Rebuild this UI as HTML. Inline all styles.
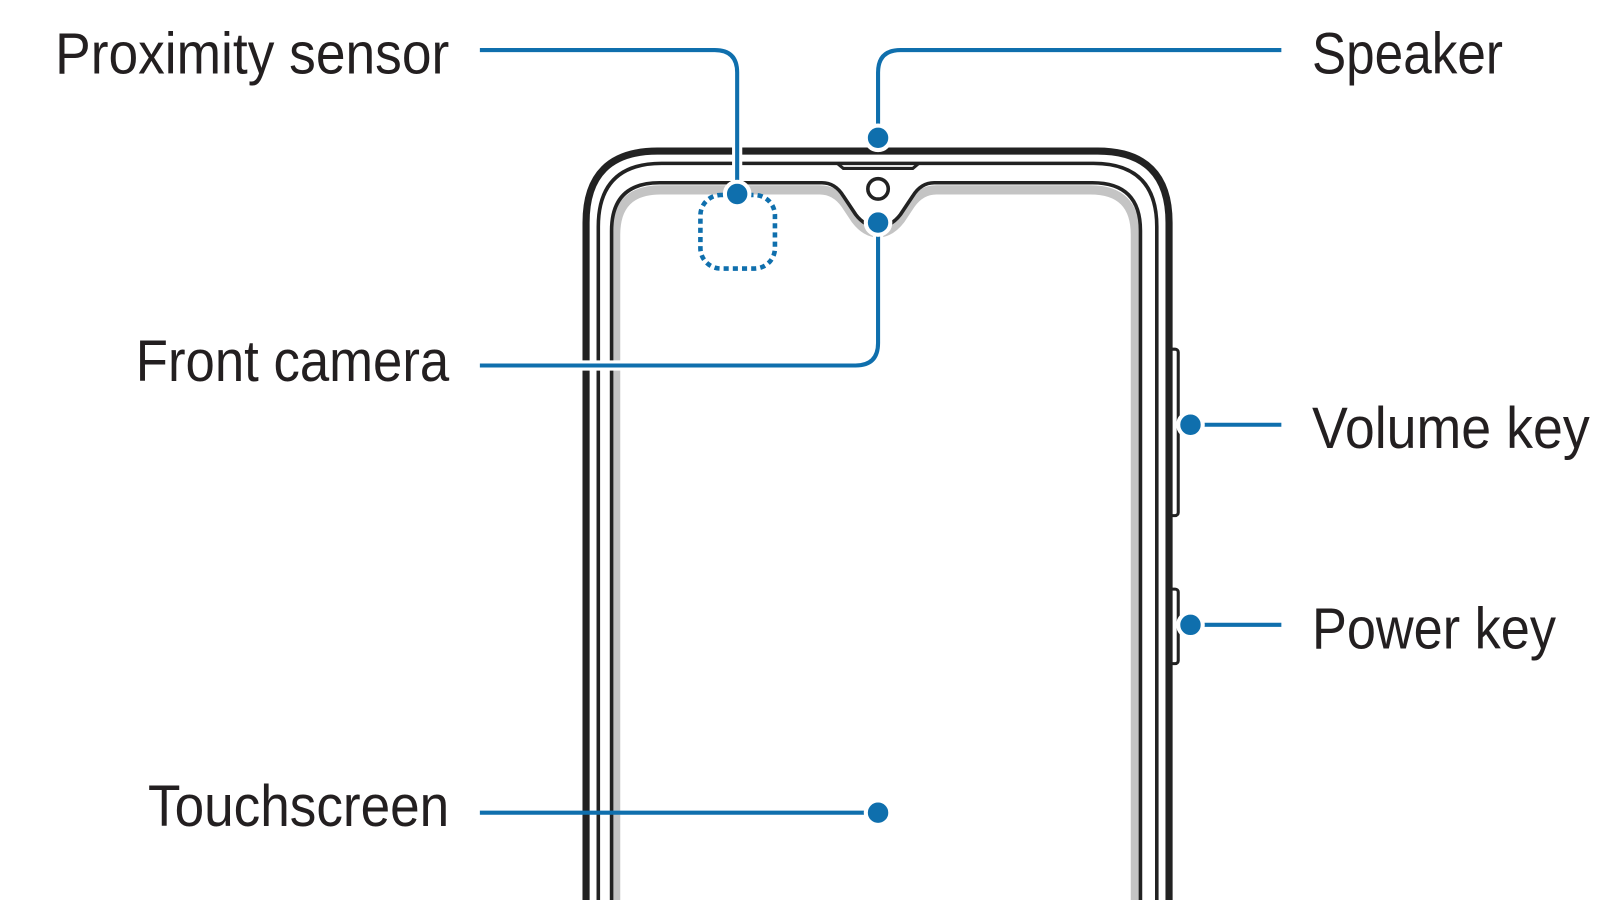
<!DOCTYPE html>
<html><head><meta charset="utf-8"><style>
html,body{margin:0;padding:0;background:#fff;}
svg{display:block;}
text{font-family:"Liberation Sans",sans-serif;font-size:57px;fill:#231f20;}
</style></head><body>
<svg width="1600" height="900" viewBox="0 0 1600 900" xmlns="http://www.w3.org/2000/svg">
<g transform="scale(1.021)">
<path d="M1145 342 h6 a3 3 0 0 1 3 3 v157 a3 3 0 0 1 -3 3 h-6" fill="#fff" stroke="#222" stroke-width="3"/>
<path d="M1145 577 h6 a3 3 0 0 1 3 3 v67 a3 3 0 0 1 -3 3 h-6" fill="#fff" stroke="#222" stroke-width="3"/>
<path d="M574 920 V218 Q574 148 644 148 H1075 Q1145 148 1145 218 V920" fill="#fff" stroke="#222" stroke-width="7"/>
<path d="M586 920 V222 Q586 160 648 160 H1071 Q1133 160 1133 222 V920" fill="none" stroke="#222" stroke-width="3.5"/>
<path d="M820 160 L826 165 H894 L900 160" fill="none" stroke="#222" stroke-width="3"/>
<path d="M603 920 V230 Q603 186 647 186 H803 Q818 186 828 200 L838 215 Q848 228 860 228 Q872 228 882 215 L892 200 Q902 186 917 186 H1068 Q1112 186 1112 230 V920" fill="none" stroke="#c4c4c4" stroke-width="9"/>
<path d="M599 920 V226 Q599 179 646 179 H805 Q818 179 826 192 L838 210 Q847 222 860 222 Q873 222 882 210 L894 192 Q902 179 915 179 H1070 Q1117 179 1117 226 V920" fill="none" stroke="#222" stroke-width="3.5"/>
<circle cx="860" cy="185" r="10" fill="#fff" stroke="#222" stroke-width="3.5"/>
<rect x="686" y="191" width="73" height="72" rx="20" fill="none" stroke="#0f6fad" stroke-width="4.5" stroke-dasharray="5 4"/>
<g fill="none" stroke="#0f6fad" stroke-width="4">
<path d="M470 49 H700 Q722 49 722 71 V190" stroke="#fff" stroke-width="10"/>
<path d="M470 49 H700 Q722 49 722 71 V190"/>
<path d="M1255 49 H882 Q860 49 860 71 V135"/>
<path d="M470 358 H838 Q860 358 860 336 V218" stroke="#fff" stroke-width="10"/>
<path d="M470 358 H838 Q860 358 860 336 V218"/>
<path d="M1166 416 H1255"/>
<path d="M1166 612 H1255"/>
<path d="M470 796 H860"/>
</g>
<g fill="#0f6fad" stroke="#fff" stroke-width="4">
<circle cx="722" cy="190" r="12"/>
<circle cx="860" cy="135" r="12"/>
<circle cx="860" cy="218" r="12"/>
<circle cx="1166" cy="416" r="12"/>
<circle cx="1166" cy="612" r="12"/>
<circle cx="860" cy="796" r="12"/>
</g>
<text x="54" y="72" textLength="386" lengthAdjust="spacingAndGlyphs">Proximity sensor</text>
<text x="133" y="373" textLength="307" lengthAdjust="spacingAndGlyphs">Front camera</text>
<text x="145" y="809" textLength="295" lengthAdjust="spacingAndGlyphs">Touchscreen</text>
<text x="1285" y="72" textLength="187" lengthAdjust="spacingAndGlyphs">Speaker</text>
<text x="1285" y="439" textLength="272" lengthAdjust="spacingAndGlyphs">Volume key</text>
<text x="1285" y="635" textLength="239" lengthAdjust="spacingAndGlyphs">Power key</text>
</g>
</svg>
</body></html>
